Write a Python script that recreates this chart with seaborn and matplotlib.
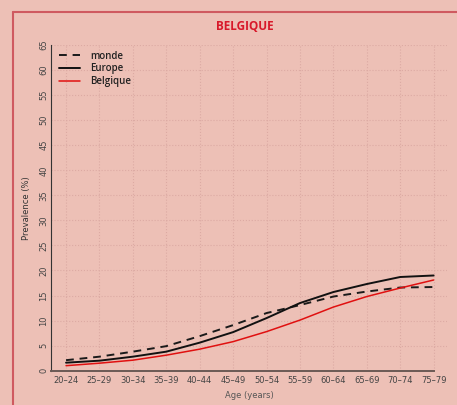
import matplotlib
matplotlib.use("Agg")
import matplotlib.pyplot as plt
from matplotlib.lines import Line2D
import numpy as np
import pandas as pd
import seaborn as sns

# data
ages = ["20\u201324", "25\u201329", "30\u201334", "35\u201339", "40\u201344", "45\u201349",
        "50\u201354", "55\u201359", "60\u201364", "65\u201369", "70\u201374", "75\u201379"]
monde = [2.1, 2.8, 3.8, 4.9, 6.9, 9.1, 11.5, 13.1, 14.8, 15.8, 16.6, 16.7]
europe = [1.6, 2.0, 2.8, 3.8, 5.6, 7.7, 10.5, 13.5, 15.7, 17.3, 18.7, 19.0]
belgique = [1.0, 1.5, 2.1, 3.1, 4.3, 5.8, 7.8, 10.1, 12.7, 14.8, 16.5, 18.1]

BG = "#edc0b6"

sns.set_theme(style="ticks")
plt.rcParams["font.family"] = ["DejaVu Sans"]

df = pd.DataFrame({"pos": np.arange(len(ages)), "monde": monde,
                   "Europe": europe, "Belgique": belgique})

fig = plt.figure(figsize=(4.57, 4.05), dpi=100, facecolor=BG)
ax = fig.add_axes([51 / 457, 1 - 370.7 / 405, 396 / 457, 325.7 / 405])
ax.set_facecolor(BG)

sns.lineplot(data=df, x="pos", y="monde", ax=ax, color="#1a1a1a", lw=1.4,
             linestyle=(0, (4, 3)), label="monde")
sns.lineplot(data=df, x="pos", y="Europe", ax=ax, color="#111111", lw=1.4, label="Europe")
sns.lineplot(data=df, x="pos", y="Belgique", ax=ax, color="#e01010", lw=1.1, label="Belgique")

ax.set_xlim(-0.45, 11.4)
ax.set_ylim(0, 65)
ax.set_xticks(range(len(ages)))
ax.set_xticklabels(ages)
ax.set_yticks(range(0, 70, 5))
ax.tick_params(axis="both", length=0, labelsize=6, colors="#444444", pad=4)
ax.tick_params(axis="y", pad=2)
for lab in ax.get_yticklabels():
    lab.set_rotation(90)
    lab.set_va("center")

ax.grid(True, linestyle=":", color="#dcaaa3", lw=0.8)
ax.set_axisbelow(True)
sns.despine(ax=ax)
ax.spines["left"].set_color("#333333")
ax.spines["left"].set_linewidth(0.8)
ax.spines["bottom"].set_color("#6b5a55")
ax.spines["bottom"].set_linewidth(1.4)
ax.spines["bottom"].set_bounds(-0.45, 11)

ax.set_xlabel("Age (years)", fontsize=6, color="#555555", labelpad=4)
ax.set_ylabel("Prevalence (%)", fontsize=6, color="#333333", labelpad=6)

leg = ax.legend(loc="upper left", frameon=False, handlelength=2.2,
                handletextpad=1.0, labelspacing=0.2, borderaxespad=0,
                bbox_to_anchor=(0.01, 0.995),
                prop={"family": "Open Sans", "weight": "semibold", "size": 7})
for t in leg.get_texts():
    t.set_color("#222222")

fig.text(245 / 457, 1 - 26 / 405, "BELGIQUE", ha="center", va="center",
         color="#d8192a", fontsize=8.5, fontweight="bold", family="Open Sans")

# red frame around the panel
fig.add_artist(Line2D([13 / 457, 1], [1 - 12 / 405, 1 - 12 / 405],
                      color="#cf5a60", lw=1.5, transform=fig.transFigure))
fig.add_artist(Line2D([13 / 457, 13 / 457], [0, 1 - 12 / 405],
                      color="#cf5a60", lw=1.5, transform=fig.transFigure))

fig.savefig("out.png", dpi=100, facecolor=BG)
